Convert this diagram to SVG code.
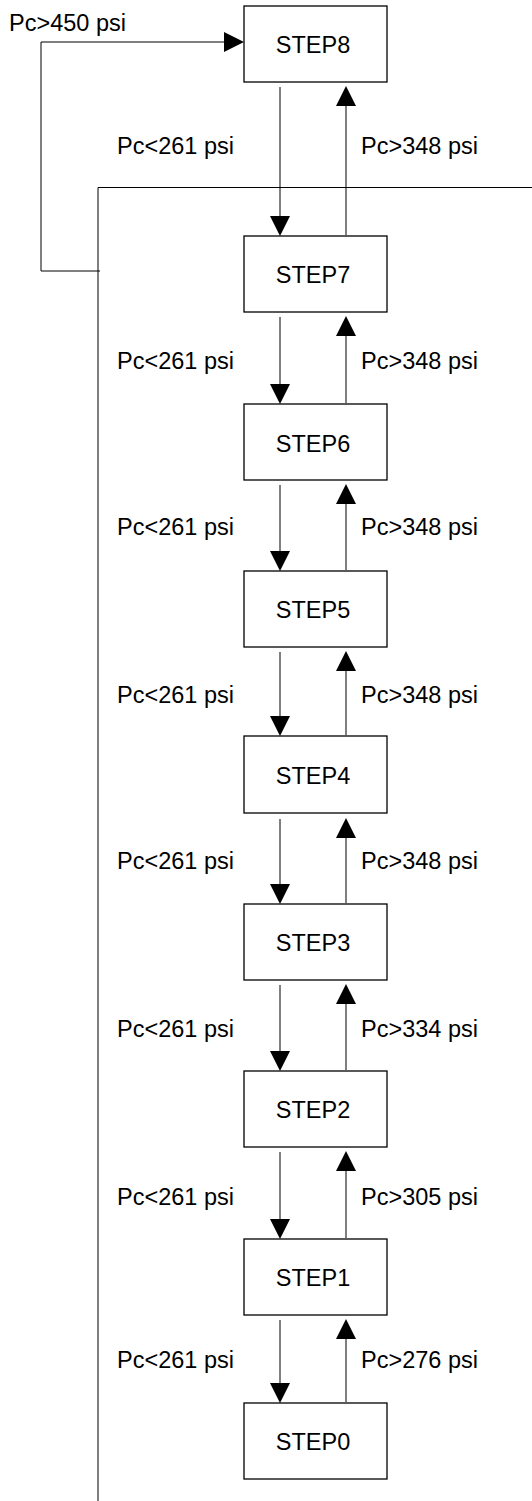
<svg xmlns="http://www.w3.org/2000/svg" width="532" height="1501" viewBox="0 0 532 1501">
<style>
.box{fill:#fff;stroke:#000;stroke-width:1.3}
.t{font-family:"Liberation Sans",Arial,sans-serif;font-size:23.5px;fill:#000}
.c{text-anchor:middle}
.ln{fill:none;stroke:#000;stroke-width:1}
.ah{fill:#000;stroke:none}
</style>
<rect width="532" height="1501" fill="#fff"/>
<g id="connectors">
<!-- feedback loops -->
<path class="ln" d="M100 271 H41 V42 H224"/>
<polygon class="ah" points="224,32 224,52 244,42"/>
<path class="ln" d="M532 187.5 H98 V1501"/>
<!-- 8-7 -->
<line class="ln" x1="280" y1="87" x2="280" y2="217"/><polygon class="ah" points="270,216 290,216 280,236"/>
<line class="ln" x1="346" y1="235" x2="346" y2="105"/><polygon class="ah" points="336,106 356,106 346,86"/>
<!-- 7-6 -->
<line class="ln" x1="280" y1="317" x2="280" y2="385"/><polygon class="ah" points="270,384 290,384 280,404"/>
<line class="ln" x1="346" y1="403" x2="346" y2="335"/><polygon class="ah" points="336,336 356,336 346,316"/>
<!-- 6-5 -->
<line class="ln" x1="280" y1="485" x2="280" y2="552"/><polygon class="ah" points="270,551 290,551 280,571"/>
<line class="ln" x1="346" y1="570" x2="346" y2="503"/><polygon class="ah" points="336,504 356,504 346,484"/>
<!-- 5-4 -->
<line class="ln" x1="280" y1="652" x2="280" y2="717"/><polygon class="ah" points="270,716 290,716 280,736"/>
<line class="ln" x1="346" y1="735" x2="346" y2="670"/><polygon class="ah" points="336,671 356,671 346,651"/>
<!-- 4-3 -->
<line class="ln" x1="280" y1="819" x2="280" y2="885"/><polygon class="ah" points="270,884 290,884 280,904"/>
<line class="ln" x1="346" y1="903" x2="346" y2="837"/><polygon class="ah" points="336,838 356,838 346,818"/>
<!-- 3-2 -->
<line class="ln" x1="280" y1="985" x2="280" y2="1052"/><polygon class="ah" points="270,1051 290,1051 280,1071"/>
<line class="ln" x1="346" y1="1070" x2="346" y2="1003"/><polygon class="ah" points="336,1004 356,1004 346,984"/>
<!-- 2-1 -->
<line class="ln" x1="280" y1="1152" x2="280" y2="1220"/><polygon class="ah" points="270,1219 290,1219 280,1239"/>
<line class="ln" x1="346" y1="1238" x2="346" y2="1170"/><polygon class="ah" points="336,1171 356,1171 346,1151"/>
<!-- 1-0 -->
<line class="ln" x1="280" y1="1320" x2="280" y2="1384"/><polygon class="ah" points="270,1383 290,1383 280,1403"/>
<line class="ln" x1="346" y1="1402" x2="346" y2="1338"/><polygon class="ah" points="336,1339 356,1339 346,1319"/>
</g>
<g id="labels">
<text class="t" x="9" y="31">Pc&gt;450 psi</text>
<text class="t" x="117" y="154">Pc&lt;261 psi</text><text class="t" x="361" y="154">Pc&gt;348 psi</text>
<text class="t" x="117" y="369">Pc&lt;261 psi</text><text class="t" x="361" y="369">Pc&gt;348 psi</text>
<text class="t" x="117" y="535">Pc&lt;261 psi</text><text class="t" x="361" y="535">Pc&gt;348 psi</text>
<text class="t" x="117" y="703">Pc&lt;261 psi</text><text class="t" x="361" y="703">Pc&gt;348 psi</text>
<text class="t" x="117" y="869">Pc&lt;261 psi</text><text class="t" x="361" y="869">Pc&gt;348 psi</text>
<text class="t" x="117" y="1037">Pc&lt;261 psi</text><text class="t" x="361" y="1037">Pc&gt;334 psi</text>
<text class="t" x="117" y="1205">Pc&lt;261 psi</text><text class="t" x="361" y="1205">Pc&gt;305 psi</text>
<text class="t" x="117" y="1368">Pc&lt;261 psi</text><text class="t" x="361" y="1368">Pc&gt;276 psi</text>
</g>
<g id="step8"><rect class="box" x="244" y="6" width="143" height="76"/><text class="t c" x="313" y="53">STEP8</text></g>
<g id="step7"><rect class="box" x="244" y="236" width="143" height="76"/><text class="t c" x="313" y="283">STEP7</text></g>
<g id="step6"><rect class="box" x="244" y="404" width="143" height="76"/><text class="t c" x="313" y="452">STEP6</text></g>
<g id="step5"><rect class="box" x="244" y="571" width="143" height="76"/><text class="t c" x="313" y="618">STEP5</text></g>
<g id="step4"><rect class="box" x="244" y="736" width="143" height="77"/><text class="t c" x="313" y="784">STEP4</text></g>
<g id="step3"><rect class="box" x="244" y="904" width="143" height="76"/><text class="t c" x="313" y="951">STEP3</text></g>
<g id="step2"><rect class="box" x="244" y="1071" width="143" height="76"/><text class="t c" x="313" y="1118">STEP2</text></g>
<g id="step1"><rect class="box" x="244" y="1239" width="143" height="76"/><text class="t c" x="313" y="1286">STEP1</text></g>
<g id="step0"><rect class="box" x="244" y="1403" width="143" height="76"/><text class="t c" x="313" y="1450">STEP0</text></g>
</svg>
